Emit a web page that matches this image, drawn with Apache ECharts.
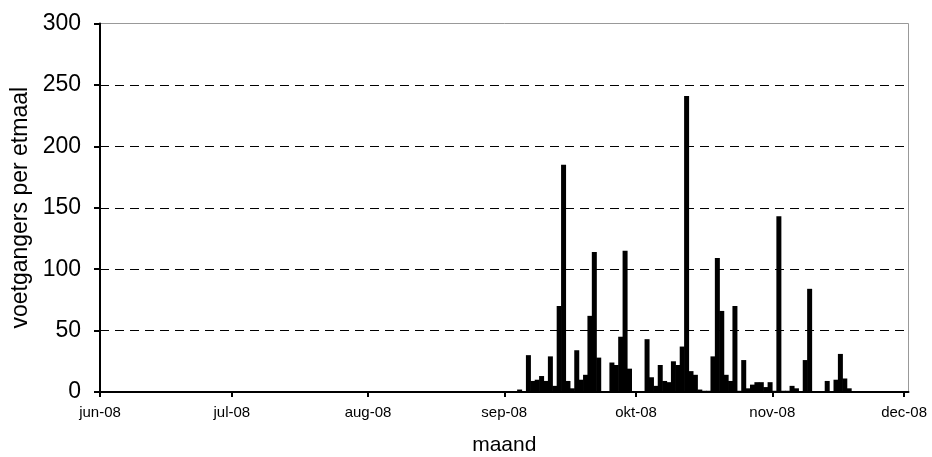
<!DOCTYPE html>
<html>
<head>
<meta charset="utf-8">
<script src="https://cdn.jsdelivr.net/npm/echarts@6/dist/echarts.min.js"></script>
<style>html,body{margin:0;padding:0;background:#fff}#c{width:932px;height:457px}</style>
</head>
<body>
<div id="c"></div>
<script>
// daily counts, starting at firstDay (consecutive days)
const firstDay = '2008-09-04';
const counts = [
  2, 0, 30, 9, 10, 13, 9, 29, 5, 70, 185, 9, 3, 34, 10, 14, 62, 114, 28, 0,
  0, 24, 22, 45, 115, 19, 0, 0, 0, 43, 12, 5, 22, 9, 8, 25, 22, 37, 241, 17,
  14, 2, 1, 1, 29, 109, 66, 14, 9, 70, 1, 26, 3, 6, 8, 8, 4, 8, 1, 143,
  1, 1, 5, 3, 0, 26, 84, 0, 0, 0, 9, 0, 10, 31, 11, 3
];
const monthTicks = ['2008-06-01','2008-07-01','2008-08-01','2008-09-01','2008-10-01','2008-11-01','2008-12-01'];
const monthLabels = ['jun-08','jul-08','aug-08','sep-08','okt-08','nov-08','dec-08'];
const yTicks = [0, 50, 100, 150, 200, 250, 300];
const axisStart = '2008-06-01';
const axisEnd = '2008-12-02';

const DAY = 86400000;
function ts(s){ const p = s.split('-').map(Number); return Date.UTC(p[0], p[1]-1, p[2]); }
const start0 = ts(firstDay);
const seriesData = counts.map((v, i) => [start0 + i*DAY + DAY/2, v]);
const tickTs = monthTicks.map(ts);
const labelMap = {};
tickTs.forEach((t, i) => labelMap[t] = monthLabels[i]);

const chart = echarts.init(document.getElementById('c'), null, {renderer: 'canvas'});
chart.setOption({
  animation: false,
  backgroundColor: '#fff',
  grid: {left: 100, right: 23.5, top: 23.5, bottom: 65, show: true, borderColor: '#999', borderWidth: 1,
    backgroundColor: 'transparent', containLabel: false, outerBoundsMode: 'none'},
  xAxis: {
    type: 'value',
    min: ts(axisStart),
    max: ts(axisEnd),
    name: 'maand',
    nameLocation: 'middle',
    nameGap: 43,
    nameTextStyle: {fontFamily: 'Liberation Sans, Arial', fontSize: 21, color: '#000'},
    axisLine: {show: true, lineStyle: {color: '#000', width: 2}},
    axisTick: {show: true, customValues: tickTs, length: 5, lineStyle: {color: '#000', width: 2}},
    axisLabel: {customValues: tickTs, formatter: v => labelMap[v] || '', fontFamily: 'Liberation Sans, Arial', fontSize: 15, color: '#000', margin: 13},
    splitLine: {show: false}
  },
  yAxis: {
    type: 'value',
    min: 0, max: 300, interval: 50,
    name: 'voetgangers per etmaal',
    nameLocation: 'middle',
    nameGap: 67,
    nameTextStyle: {fontFamily: 'Liberation Sans, Arial', fontSize: 23, color: '#000'},
    axisLine: {show: true, lineStyle: {color: '#000', width: 2}},
    axisTick: {show: true, length: 6, lineStyle: {color: '#000', width: 2}},
    axisLabel: {fontFamily: 'Liberation Sans, Arial', fontSize: 23, color: '#000', margin: 19,
      formatter: v => yTicks.includes(v) ? String(v) : ''},
    splitLine: {show: true, showMinLine: false, showMaxLine: false, lineStyle: {color: '#000', width: 1, type: [9, 6]}}
  },
  series: [{
    type: 'bar',
    data: seriesData,
    barWidth: 5,
    itemStyle: {color: '#000'},
    silent: true
  }]
});
</script>
</body>
</html>
